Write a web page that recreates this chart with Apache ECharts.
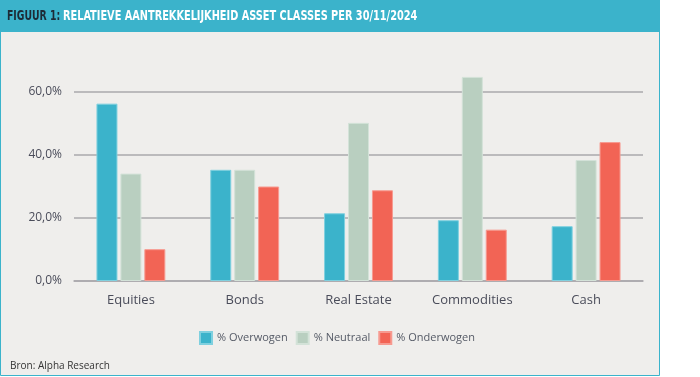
<!DOCTYPE html>
<html>
<head>
<meta charset="utf-8">
<script src="https://cdn.jsdelivr.net/npm/echarts@6/dist/echarts.min.js"></script>
<style>
  html, body { margin: 0; padding: 0; background: #ffffff; }
  #main { width: 700px; height: 377px; }
</style>
</head>
<body>
<div id="main"></div>
<script>
// asset classes
var categories = ['Equities', 'Bonds', 'Real Estate', 'Commodities', 'Cash'];
var seriesNames = ['% Overwogen', '% Neutraal', '% Onderwogen'];
var overwogen = [56.3, 35.3, 21.5, 19.3, 17.4];
var neutraal = [34.1, 35.3, 50.2, 64.8, 38.4];
var onderwogen = [10.1, 30.0, 28.8, 16.3, 44.1];
var colors = ['#3bb3cb', '#b9cfc0', '#f26455'];
var borders = ['#7fd0df', '#d3e2d8', '#f79a90'];

var chart = echarts.init(document.getElementById('main'));

function bar(i, data) {
  return {
    name: seriesNames[i],
    type: 'bar',
    data: data,
    barWidth: 21,
    barGap: '14%',
    clip: false,
    itemStyle: { color: colors[i], borderColor: borders[i], borderWidth: 1 }
  };
}

var titleFont = 'bold 14px "DejaVu Sans Condensed", "DejaVu Sans", sans-serif';

chart.setOption({
  animation: false,
  backgroundColor: '#ffffff',
  graphic: [
    { type: 'rect', z: -10, shape: { x: 0.5, y: 0.5, width: 659, height: 375 },
      style: { fill: '#efeeec', stroke: '#3bb3cb', lineWidth: 1 } },
    { type: 'rect', z: -9, shape: { x: 0, y: 0, width: 660, height: 32 },
      style: { fill: '#3bb3cb' } },
    { type: 'text', x: 7, y: 9, z: 10, scaleX: 0.74,
      style: { text: 'FIGUUR 1:', fill: '#1d2b36', font: titleFont } },
    { type: 'text', x: 63, y: 9, z: 10, scaleX: 0.775,
      style: { text: 'RELATIEVE AANTREKKELIJKHEID ASSET CLASSES PER 30/11/2024', fill: '#ffffff', font: titleFont } },
    { type: 'text', left: 10, top: 361, z: 10,
      style: { text: 'Bron: Alpha Research', fill: '#333333', font: '10px "Open Sans", sans-serif' } }
  ],
  legend: {
    data: seriesNames,
    top: 326,
    left: 194,
    itemWidth: 12,
    itemHeight: 12,
    itemGap: 8,
    icon: 'rect',
    textStyle: { color: '#555a66', fontSize: 11, fontFamily: 'Open Sans' }
  },
  grid: { left: 74, right: 57, top: 92, bottom: 96, containLabel: false },
  xAxis: {
    type: 'category',
    data: categories,
    axisLine: { lineStyle: { color: '#aaa8ac', width: 1.5 } },
    axisTick: { show: false },
    axisLabel: { color: '#4a4c5a', fontSize: 13, fontFamily: 'Open Sans', margin: 13 }
  },
  yAxis: {
    type: 'value',
    min: 0,
    max: 60,
    interval: 20,
    axisLine: { show: false },
    axisTick: { show: false },
    axisLabel: {
      color: '#4a4c5a', fontSize: 12, fontFamily: 'Open Sans', margin: 12,
      formatter: function (v) { return v.toFixed(1).replace('.', ',') + '%'; }
    },
    splitLine: { lineStyle: { color: '#aaa8ac', width: 1.5 } }
  },
  series: [bar(0, overwogen), bar(1, neutraal), bar(2, onderwogen)]
});
</script>
</body>
</html>
